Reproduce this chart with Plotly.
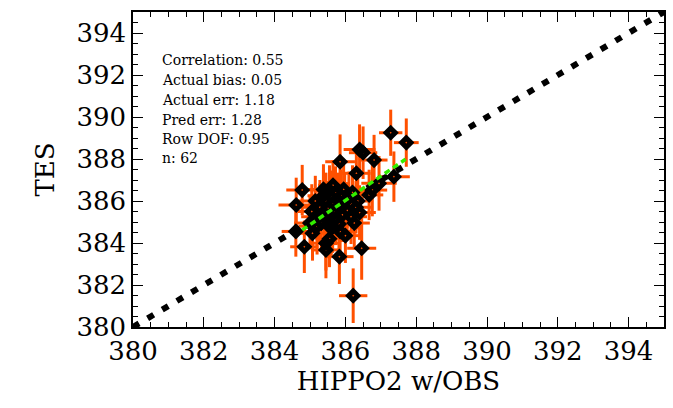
import plotly.graph_objects as go

# HIPPO2 w/OBS (x) vs TES (y)
hippo = [387.28, 387.72, 386.40, 386.50, 386.81, 385.85, 386.31, 387.37, 386.95, 386.76,
         386.67, 384.78, 384.61, 384.84, 385.45, 385.83, 386.46, 386.22, 386.16, 386.30,
         384.60, 385.07, 385.64, 385.45, 385.55, 385.15, 385.28, 385.38, 385.45, 385.50,
         385.55, 385.60, 385.65, 385.70, 385.72, 385.78, 385.82, 385.88, 385.92, 385.98,
         385.95, 385.25, 385.32, 385.40, 385.20, 385.50, 385.60, 385.72, 385.82, 386.05,
         386.10, 385.38, 385.05, 385.00, 386.20, 386.35, 386.25, 386.40, 385.65, 385.55,
         385.85, 386.00]
tes = [389.25, 388.78, 388.45, 388.30, 387.95, 387.87, 387.32, 387.16, 386.84, 386.52,
       386.29, 386.52, 385.81, 383.82, 383.67, 383.35, 383.75, 381.49, 385.25, 385.70,
       384.55, 384.46, 384.78, 383.99, 384.20, 386.00, 385.70, 386.25, 386.00, 385.65,
       386.50, 386.20, 385.90, 385.45, 386.40, 386.05, 385.75, 386.25, 385.35, 386.00,
       386.55, 385.25, 384.95, 385.35, 384.80, 385.05, 384.70, 385.15, 384.90, 385.55,
       386.15, 386.55, 385.50, 384.95, 386.40, 386.00, 384.95, 385.45, 386.75, 385.25,
       384.55, 384.35]
hippo_err = [0.33, 0.35, 0.45, 0.40, 0.38, 0.42, 0.40, 0.45, 0.50, 0.42,
             0.40, 0.45, 0.50, 0.40, 0.42, 0.40, 0.41, 0.40, 0.45, 0.48,
             0.40, 0.50, 0.45, 0.42, 0.40, 0.55, 0.50, 0.45, 0.40, 0.48,
             0.42, 0.45, 0.50, 0.40, 0.46, 0.44, 0.42, 0.48, 0.40, 0.45,
             0.42, 0.50, 0.45, 0.40, 0.52, 0.44, 0.42, 0.46, 0.40, 0.45,
             0.42, 0.48, 0.40, 0.45, 0.42, 0.40, 0.44, 0.46, 0.42, 0.40,
             0.45, 0.42]
tes_err = [1.10, 1.15, 1.20, 1.25, 1.20, 1.30, 1.25, 1.20, 1.30, 1.25,
           1.20, 1.20, 1.30, 1.25, 1.35, 1.30, 1.50, 1.30, 1.30, 1.25,
           1.20, 1.30, 1.25, 1.30, 1.35, 1.20, 1.30, 1.25, 1.35, 1.30,
           1.20, 1.25, 1.30, 1.35, 1.25, 1.30, 1.20, 1.25, 1.30, 1.35,
           1.20, 1.30, 1.25, 1.30, 1.35, 1.20, 1.30, 1.25, 1.30, 1.35,
           1.25, 1.20, 1.30, 1.25, 1.30, 1.35, 1.25, 1.30, 1.20, 1.30,
           1.25, 1.30]

# one-to-one line and regression fit endpoints
one_to_one = [380, 395]
fit_x = [384.78, 387.70]
fit_y = [384.62, 387.99]

stats_labels = ["Correlation: 0.55", "Actual bias: 0.05", "Actual err: 1.18",
                "Pred err: 1.28", "Row DOF: 0.95", "n: 62"]
stats_y = [392.71, 391.76, 390.81, 389.86, 388.95, 388.05]

tick_vals = [380, 382, 384, 386, 388, 390, 392, 394]

FONT = "DejaVu Serif"
ORANGE = "#FF5000"

fig = go.Figure()

fig.add_trace(go.Scatter(
    x=hippo, y=tes, mode="markers",
    error_x=dict(type="data", array=hippo_err, color=ORANGE, thickness=3, width=0),
    error_y=dict(type="data", array=tes_err, color=ORANGE, thickness=3, width=0),
    marker=dict(symbol="diamond-open", size=7, color="black", line=dict(color="black", width=5)),
    showlegend=False, hoverinfo="skip"))

fig.add_trace(go.Scatter(
    x=one_to_one, y=one_to_one, mode="lines",
    line=dict(color="black", width=6, dash="7px,10px"),
    showlegend=False, hoverinfo="skip"))

fig.add_trace(go.Scatter(
    x=fit_x, y=fit_y, mode="lines",
    line=dict(color="#33EE00", width=3.5, dash="6px,4px"),
    showlegend=False, hoverinfo="skip"))

for txt, yy in zip(stats_labels, stats_y):
    fig.add_annotation(x=380.76, y=yy, xref="x", yref="y", text=txt, showarrow=False,
                       xanchor="left", yanchor="middle",
                       font=dict(family=FONT, size=14, color="black"))

axis_common = dict(
    range=[380, 395], tickvals=tick_vals, ticks="inside", ticklen=10, tickwidth=1.3,
    tickcolor="black", showline=True, linecolor="black", linewidth=1.5, mirror="allticks",
    showgrid=False, zeroline=False,
    minor=dict(dtick=0.5, ticks="inside", ticklen=5, tickwidth=1.2, tickcolor="black"),
    tickfont=dict(family=FONT, size=26, color="black"),
)

fig.update_xaxes(**axis_common,
                 title=dict(text="HIPPO2 w/OBS", font=dict(family=FONT, size=26, color="black"), standoff=6))
fig.update_yaxes(**axis_common,
                 title=dict(text="TES", font=dict(family=FONT, size=26, color="black"), standoff=14))

fig.update_layout(
    width=673, height=408,
    margin=dict(l=133, r=7, t=12, b=81),
    paper_bgcolor="white", plot_bgcolor="white",
)

fig.write_html("out.html")
